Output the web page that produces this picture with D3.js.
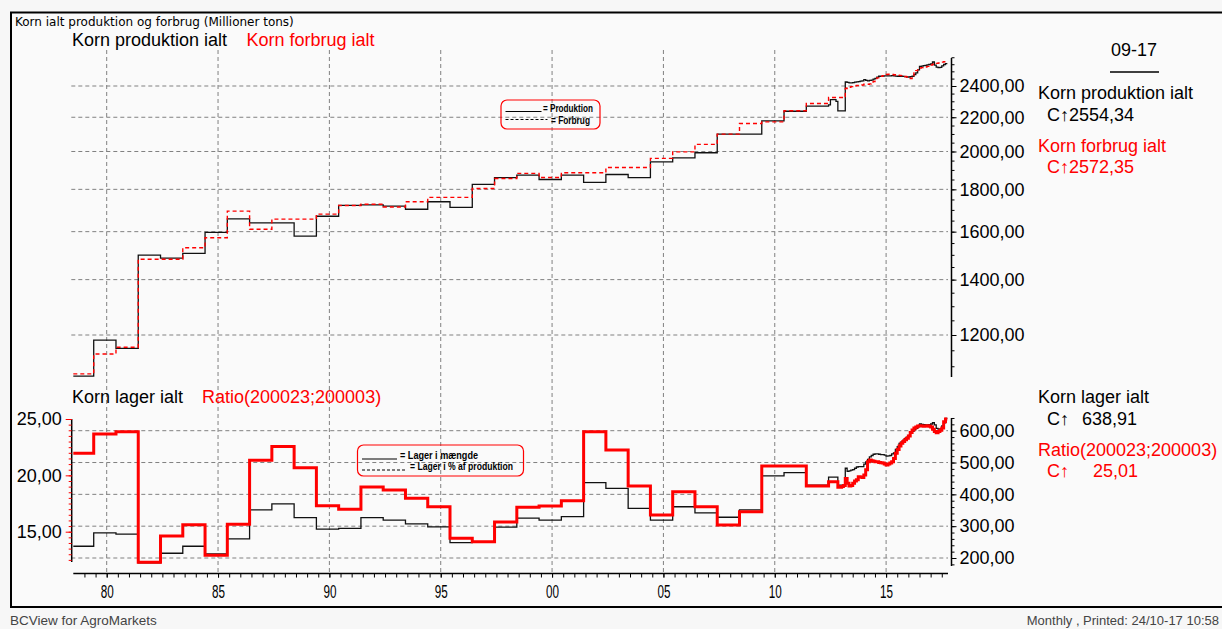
<!DOCTYPE html>
<html><head><meta charset="utf-8">
<script src="https://cdn.jsdelivr.net/npm/d3@7"></script>
<style>
html,body{margin:0;padding:0;background:#f7f7f7;overflow:hidden;}
svg{display:block;font-family:"Liberation Sans",Arial,sans-serif;}
</style></head><body>
<svg id="c" width="1222" height="629"></svg>
<script>
// ---------------- DATA ----------------
// marketing years 1978/79 .. 2011/12 (annual step values)
const marketingYears = d3.range(1978, 2012);
const prodAnnual = [1070,1183,1156,1499,1486,1506,1597,1658,1640,1640,1580,1670,1721,1724,1718,1703,1739,1712,1825,1860,1873,1850,1873,1835,1876,1860,1943,1965,1993,2099,2099,2178,2237,2269];
const consAnnual = [1077,1138,1160,1482,1482,1530,1573,1694,1611,1657,1657,1680,1721,1727,1714,1739,1760,1760,1804,1855,1882,1860,1885,1885,1913,1913,1962,1998,2040,2099,2162,2172,2240,2286];
const stockAnnual = [237,279,275,185,215,237,213,260,351,370,327,291,293,327,319,307,298,248,251,297,325,319,330,437,419,356,319,361,342,328,351,458,468,429];
const ratioAnnual = [21.96,23.67,23.87,12.28,14.62,15.62,12.9,15.66,21.33,22.57,20.68,17.31,17.0,18.96,18.7,17.96,17.22,14.41,14.11,15.85,17.16,17.28,17.75,23.87,22.25,19.05,16.48,18.55,17.22,15.59,16.77,20.83,20.83,19.05];
// monthly values Jun 2012 .. Sep 2017
const monthlyStart = 2012 + 5/12;
const prodMonthly = [2277,2311,2311,2311,2300,2239,2239,2239, 2239,2427,2425,2421,2421,2423,2426,2428, 2430,2433,2435,2443,2438,2434,2438,2440, 2446,2452,2460,2466,2466,2467,2468,2468, 2468,2469,2470,2468,2467,2466,2466,2466, 2465,2463,2461,2461,2463,2466,2478,2490, 2510,2535,2537,2540,2542,2545,2548,2552, 2566,2543,2530,2526,2528,2538,2548,2554];
const consMonthly = [2324,2324,2324,2324,2324,2324,2324,2324, 2330,2383,2388,2392,2396,2399,2401,2403, 2404,2405,2407,2412,2412,2412,2414,2420, 2430,2442,2455,2461,2465,2470,2474,2478, 2480,2480,2478,2476,2474,2473,2472,2470, 2468,2464,2461,2455,2450,2470,2489,2505, 2519,2523,2526,2528,2530,2535,2540,2545, 2550,2553,2556,2559,2562,2565,2568,2572];
const stockMonthly = [454,454,454,454,454,429,429,429, 429,482,472,474,476,478,482,486, 487,487,487,495,502,510,518,522, 526,527,527,526,525,525,523,520, 521,522,527,530,541,550,560,565, 570,576,580,585,592,598,603,607, 612,621,620,619,618,618,619,621, 625,618,607,605,606,615,625,639];
const ratioMonthly = [19.44,19.44,19.44,19.44,19.44,18.94,18.94,19.0, 19.1,19.73,19.29,19.05,19.1,19.3,19.5,19.6, 19.88,19.85,19.8,20.03,20.5,21.21,21.36,21.3, 21.25,21.2,21.2,21.15,21.12,21.1,21.0,20.92, 21.0,21.1,21.2,21.5,21.96,22.3,22.6,22.84, 23.0,23.15,23.29,23.5,23.8,24.02,24.2,24.3, 24.38,24.4,24.38,24.35,24.38,24.4,24.35,24.3, 24.1,23.9,23.78,23.9,24.0,24.2,24.76,25.01];

const yearTicks = [1980,1985,1990,1995,2000,2005,2010,2015];
const topTicks = [1200,1400,1600,1800,2000,2200,2400];
const stockTicks = [200,300,400,500,600];
const ratioTicks = [15,20,25];

// ---------------- HELPERS ----------------
function buildSeries(annual, monthly){
  const pts = annual.map((v,i)=>({t: i===0 ? 1978.5 : marketingYears[i] + 5/12, v}));
  monthly.forEach((v,i)=>pts.push({t: monthlyStart + i/12, v}));
  pts.push({t: monthlyStart + monthly.length/12, v: monthly[monthly.length-1]});
  return pts;
}
const fmt = d => d3.format(".2f")(d).replace(".", ",");
const RED = "#ff0000";
const BIG = 18;

const svg = d3.select("#c");

// frame
svg.append("rect").attr("x",0).attr("y",0).attr("width",1222).attr("height",629).attr("fill","#f7f7f7");
svg.append("rect").attr("x",11).attr("y",12.5).attr("width",1230).attr("height",594.5)
  .attr("fill","#fafafa").attr("stroke","#000").attr("stroke-width",2);

// scales
const x = d3.scaleLinear().domain([1980, 2015]).range([106.7, 886.1]);
const yTop = d3.scaleLog().domain([1200, 2400]).range([335, 86]);
const yStock = d3.scaleLinear().domain([200, 600]).range([558, 430.7]);
const yRatio = d3.scaleLinear().domain([15, 25]).range([531.7, 419]);

const X0 = x(1978.5), X1 = 948;

// grid
const grid = svg.append("g").attr("stroke","#808080").attr("stroke-width",1).attr("stroke-dasharray","4,3");
yearTicks.forEach(t => grid.append("line").attr("x1",x(t)).attr("x2",x(t)).attr("y1",50).attr("y2",573));
topTicks.forEach(v => grid.append("line").attr("x1",X0-2).attr("x2",X1).attr("y1",yTop(v)).attr("y2",yTop(v)));
stockTicks.forEach(v => grid.append("line").attr("x1",X0-2).attr("x2",X1).attr("y1",yStock(v)).attr("y2",yStock(v)));

// ---- top panel lines
const lineTop = d3.line().x(d=>x(d.t)).y(d=>yTop(d.v)).curve(d3.curveStepAfter);
svg.append("path").datum(buildSeries(prodAnnual, prodMonthly)).attr("d", lineTop)
  .attr("fill","none").attr("stroke","#111").attr("stroke-width",1.3);
svg.append("path").datum(buildSeries(consAnnual, consMonthly)).attr("d", lineTop)
  .attr("fill","none").attr("stroke",RED).attr("stroke-width",1.4).attr("stroke-dasharray","4,3");

// ---- bottom panel lines
const lineStock = d3.line().x(d=>x(d.t)).y(d=>yStock(d.v)).curve(d3.curveStepAfter);
const lineRatio = d3.line().x(d=>x(d.t)).y(d=>yRatio(d.v)).curve(d3.curveStepAfter);
svg.append("path").datum(buildSeries(stockAnnual, stockMonthly)).attr("d", lineStock)
  .attr("fill","none").attr("stroke","#111").attr("stroke-width",1.3);
svg.append("path").datum(buildSeries(ratioAnnual, ratioMonthly)).attr("d", lineRatio)
  .attr("fill","none").attr("stroke",RED).attr("stroke-width",3);

// ---- axes
function styleAxis(g, size, color){
  g.select(".domain").remove();
  g.selectAll("line").attr("stroke", color||"#000");
  g.selectAll("text").attr("fill","#000").style("font-size", size+"px");
}
// top right axis
svg.append("line").attr("x1",951.5).attr("x2",951.5).attr("y1",58).attr("y2",377).attr("stroke","#000").attr("stroke-width",1.5);
svg.append("g").attr("transform","translate(951.5,0)")
  .call(d3.axisRight(yTop).tickValues(d3.range(1100,2601,50)).tickSize(3).tickFormat(""))
  .call(g=>styleAxis(g,BIG));
svg.append("g").attr("transform","translate(951.5,0)")
  .call(d3.axisRight(yTop).tickValues(topTicks).tickSize(5).tickPadding(3).tickFormat(fmt))
  .call(g=>styleAxis(g,BIG));

// bottom right axis (stock)
svg.append("line").attr("x1",951.5).attr("x2",951.5).attr("y1",418).attr("y2",566).attr("stroke","#000").attr("stroke-width",1.5);
svg.append("g").attr("transform","translate(951.5,0)")
  .call(d3.axisRight(yStock).tickValues(d3.range(180,641,20)).tickSize(3).tickFormat(""))
  .call(g=>styleAxis(g,BIG));
svg.append("g").attr("transform","translate(951.5,0)")
  .call(d3.axisRight(yStock).tickValues(stockTicks).tickSize(5).tickPadding(3).tickFormat(fmt))
  .call(g=>styleAxis(g,BIG));

// bottom left axis (ratio)
svg.append("line").attr("x1",71.7).attr("x2",71.7).attr("y1",419).attr("y2",562).attr("stroke","#000").attr("stroke-width",1.5);
svg.append("g").attr("transform","translate(71.7,0)")
  .call(d3.axisLeft(yRatio).tickValues(d3.range(12.5,25.01,0.5)).tickSize(3).tickFormat(""))
  .call(g=>styleAxis(g,BIG,RED));
svg.append("g").attr("transform","translate(71.7,0)")
  .call(d3.axisLeft(yRatio).tickValues(ratioTicks).tickSize(6).tickPadding(4).tickFormat(fmt))
  .call(g=>styleAxis(g,BIG,RED));

// x axis
svg.append("line").attr("x1",X0).attr("x2",X1).attr("y1",573.5).attr("y2",573.5).attr("stroke","#000").attr("stroke-width",1.5);
svg.append("g").attr("transform","translate(0,573.5)")
  .call(d3.axisBottom(x).tickValues(d3.range(1979,2018,0.5)).tickSize(4).tickFormat(""))
  .call(g=>styleAxis(g,16));
svg.append("g").attr("transform","translate(0,573.5)")
  .call(d3.axisBottom(x).tickValues(yearTicks).tickSize(4).tickPadding(8).tickFormat(d=>String(d%100).padStart(2,"0")))
  .call(g=>styleAxis(g,18))
  .call(g=>g.selectAll("text").attr("textLength",13).attr("lengthAdjust","spacingAndGlyphs"));

// ---- texts
function txt(x0,y0,s,size,color,anchor){
  return svg.append("text").attr("x",x0).attr("y",y0).text(s)
    .attr("fill",color||"#000").style("font-size",size+"px").attr("text-anchor",anchor||"start");
}
txt(15,26,"Korn ialt produktion og forbrug (Millioner tons)",12,"#000").style("font-family",'"DejaVu Sans",sans-serif');
txt(72,46,"Korn produktion ialt",BIG);
txt(246.5,46,"Korn forbrug ialt",BIG,RED);
txt(72,403,"Korn lager ialt",BIG);
txt(202,403,"Ratio(200023;200003)",BIG,RED);

txt(1134,56,"09-17",BIG,"#000","middle");
svg.append("line").attr("x1",1110).attr("x2",1159).attr("y1",72).attr("y2",72).attr("stroke","#000").attr("stroke-width",1.5);
txt(1038,98.5,"Korn produktion ialt",BIG);
txt(1047,120.5,"C\u21912554,34",BIG);
txt(1038,152,"Korn forbrug ialt",BIG,RED);
txt(1047,173,"C\u21912572,35",BIG,RED);

txt(1038,403,"Korn lager ialt",BIG);
txt(1047,425,"C\u2191",BIG);
txt(1082,425,"638,91",BIG);
txt(1038,456,"Ratio(200023;200003)",BIG,RED);
txt(1047,477,"C\u2191",BIG,RED);
txt(1093,477,"25,01",BIG,RED);

// footer
txt(10,625,"BCView for AgroMarkets",13.5,"#444");
txt(1219,625,"Monthly , Printed: 24/10-17 10:58",13,"#444","end");

// ---- legends
function legend(x0,y0,w,h,items){
  const g = svg.append("g");
  g.append("rect").attr("x",x0).attr("y",y0).attr("width",w).attr("height",h).attr("rx",6)
    .attr("fill","none").attr("stroke",RED).attr("stroke-width",1.2);
  items.forEach(it=>{
    g.append("line").attr("x1",x0+4.5).attr("x2",x0+4.5+it.len).attr("y1",it.ly).attr("y2",it.ly)
      .attr("stroke","#000").attr("stroke-width",1.2).attr("stroke-dasharray",it.dash?"3,2":null);
    g.append("text").attr("x",it.tx).attr("y",it.ty).text(it.label)
      .style("font-size","11px").style("font-weight","bold")
      .attr("textLength",it.tl).attr("lengthAdjust","spacingAndGlyphs").attr("fill","#000");
  });
}
legend(501,100,99,29,[
  {len:36,ly:111.5,tx:543,ty:112,tl:50,label:"= Produktion",dash:false},
  {len:42,ly:119.5,tx:551,ty:124,tl:39,label:"= Forbrug",dash:true}
]);
legend(357.5,445,166,31,[
  {len:35,ly:459,tx:400,ty:459,tl:78,label:"= Lager i mængde",dash:false},
  {len:45,ly:470,tx:410,ty:470,tl:103,label:"= Lager i % af produktion",dash:true}
]);
</script>
</body></html>
